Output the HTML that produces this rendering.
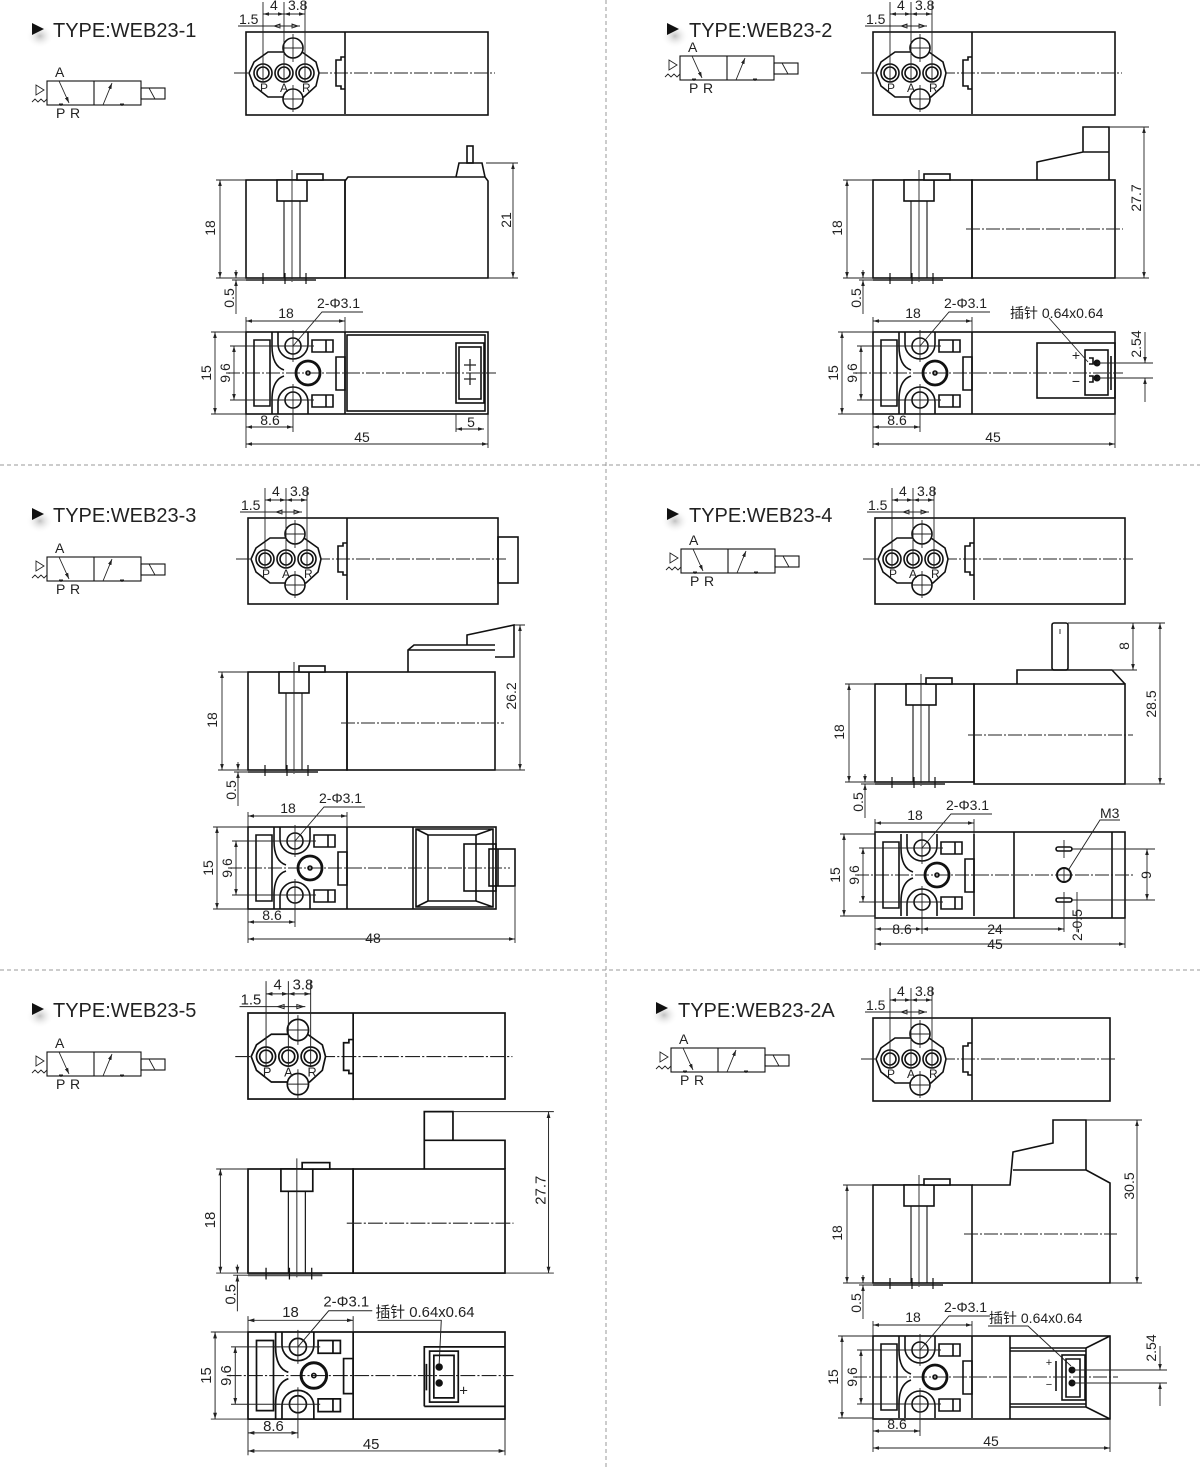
<!DOCTYPE html>
<html><head><meta charset="utf-8">
<style>
html,body{margin:0;padding:0;background:#fff;}
svg{display:block;}
text{font-family:"Liberation Sans","Noto Sans CJK SC",sans-serif;fill:#222;}
.t{font-size:14px;}
.h{font-size:20px;}
.s{fill:none;stroke:#111;stroke-width:1.6;}
.th{fill:none;stroke:#222;stroke-width:0.9;}
.c{fill:none;stroke:#222;stroke-width:1;stroke-dasharray:14 2 2 2;}
.k{fill:none;stroke:#111;stroke-width:2.8;}
</style></head><body>
<svg width="1200" height="1467" viewBox="0 0 1200 1467" xmlns="http://www.w3.org/2000/svg">
<defs>
<marker id="a" viewBox="0 0 10 10" refX="10" refY="5" markerWidth="6" markerHeight="6" orient="auto-start-reverse" markerUnits="userSpaceOnUse"><path d="M0,2 L10,5 L0,8z" fill="#222"/></marker>
<radialGradient id="sh"><stop offset="0" stop-color="#999" stop-opacity="0.6"/><stop offset="1" stop-color="#fff" stop-opacity="0"/></radialGradient>

<g id="SYM">
 <rect class="s" x="0" y="0" width="94" height="24" style="stroke-width:1.1"/>
 <line class="s" x1="47" y1="0" x2="47" y2="24" style="stroke-width:1.1"/>
 <rect class="s" x="94" y="7" width="24" height="11" style="stroke-width:1.1"/>
 <line class="th" x1="102" y1="7" x2="108" y2="18"/>
 <line class="th" x1="12" y1="0" x2="22" y2="22" marker-end="url(#a)"/>
 <line class="th" x1="56" y1="24" x2="65" y2="2" marker-end="url(#a)"/>
 <path class="th" d="M12,23 h4 M14,23 v2 M73,23 h4 M75,23 v2"/>
 <path class="th" d="M-11,4 L-3,9 L-11,14 Z"/>
 <path class="th" d="M-15,21 l3,-3 l3,3 l3,-3 l3,3 l3,-3"/>
</g>

<g id="TL">
 <line class="s" x1="99" y1="0" x2="99" y2="82"/>
 <path class="s" d="M99,25 H95 V28 H90 V54 H95 V57 H99"/>
 <polygon class="s" points="22,20 56,20 70,30 73,41 70,54 58,65 22,65 8,54 3,41 8,30" style="fill:#fff"/>
 <circle class="s" cx="47" cy="16" r="10" style="fill:#fff"/>
 <circle class="s" cx="47" cy="67" r="10" style="fill:#fff"/>
 <circle class="s" cx="17" cy="41" r="9"/><circle class="s" cx="17" cy="41" r="6"/>
 <circle class="s" cx="38" cy="41" r="9"/><circle class="s" cx="38" cy="41" r="6"/>
 <circle class="s" cx="59" cy="41" r="9"/><circle class="s" cx="59" cy="41" r="6"/>
 <path class="th" d="M47,2 V30 M37,16 H57 M47,53 V80 M37,67 H57"/>
 <path class="th" d="M17,41 V-30 M38,41 V-30 M59,41 V-30 M17,32 v18 M38,32 v18 M59,32 v18"/>
 <line class="th" x1="17" y1="-18" x2="38" y2="-18" marker-start="url(#a)" marker-end="url(#a)"/>
 <line class="th" x1="38" y1="-18" x2="59" y2="-18" marker-start="url(#a)" marker-end="url(#a)"/>
 <line class="th" x1="-8" y1="-6" x2="54" y2="-6"/>
 <path class="th" d="M28,-6 l6,-2 v4z M52,-6 l-6,-2 v4z"/>
</g>

<g id="SL">
 <rect class="s" x="0" y="0" width="99" height="98"/>
 <rect class="s" x="31" y="0" width="30" height="21" style="fill:#fff"/>
 <rect class="s" x="51" y="-6" width="26" height="6" style="fill:#fff"/>
 <path class="s" d="M38,21 V98 M54,21 V98" style="stroke-width:1.1"/>
 <line class="th" x1="46" y1="-10" x2="46" y2="102"/>
 <path class="s" d="M0,100 H70" style="stroke-width:2;stroke:#555"/>
 <path class="s" d="M17,93 V104 M39,93 V104 M60,93 V104" style="stroke-width:1.2"/>
 <line class="th" x1="-26" y1="0" x2="-26" y2="98" marker-start="url(#a)" marker-end="url(#a)"/>
 <path class="th" d="M-30,0 H0 M-30,98 H0 M-14,100 H0"/>
 <line class="th" x1="-10" y1="90" x2="-10" y2="98" marker-end="url(#a)"/>
 <line class="th" x1="-10" y1="134" x2="-10" y2="100" marker-end="url(#a)"/>
</g>

<g id="BL">
 <line class="s" x1="99" y1="0" x2="99" y2="82"/>
 <path class="s" d="M8,8 H24 V74 H8 Z"/>
 <path class="s" d="M26,0 V14 Q26,34 38,38 M26,82 V68 Q26,48 38,44"/>
 <path class="s" d="M32,0 V12 A15,15 0 0 0 62,12 V0 M32,82 V70 A15,15 0 0 1 62,70 V82"/>
 <circle class="s" cx="47" cy="14" r="8"/>
 <circle class="s" cx="47" cy="68" r="8"/>
 <circle class="k" cx="62" cy="41" r="12"/>
 <circle class="s" cx="62" cy="41" r="2"/>
 <path class="s" d="M66,8 H87 V20 H66 Z M80,8 V20 M66,63 H87 V75 H66 Z M80,63 V75"/>
 <path class="s" d="M90,25 H99 V58 H90 Z"/>
 <path class="th" d="M47,-2 V30 M25,14 H68 M47,52 V100 M25,68 H68"/>
 <line class="th" x1="0" y1="-11" x2="99" y2="-11" marker-start="url(#a)" marker-end="url(#a)"/>
 <path class="th" d="M0,-15 V0 M99,-15 V0"/>
 <path class="th" d="M47,14 L76,-20 H117"/>
 <line class="th" x1="-31" y1="0" x2="-31" y2="82" marker-start="url(#a)" marker-end="url(#a)"/>
 <path class="th" d="M-35,0 H0 M-35,82 H0"/>
 <line class="th" x1="-12" y1="14" x2="-12" y2="68" marker-start="url(#a)" marker-end="url(#a)"/>
 <path class="th" d="M-16,14 H30 M-16,68 H30"/>
 <line class="th" x1="0" y1="95" x2="47" y2="95" marker-start="url(#a)" marker-end="url(#a)"/>
 <path class="th" d="M0,82 V116"/>
</g>
</defs>

<line x1="606" y1="0" x2="606" y2="1467" stroke="#999" stroke-width="1" stroke-dasharray="4 3"/>
<line x1="0" y1="465" x2="1200" y2="465" stroke="#999" stroke-width="1" stroke-dasharray="4 3"/>
<line x1="0" y1="970" x2="1200" y2="970" stroke="#999" stroke-width="1" stroke-dasharray="4 3"/>

<g>
<ellipse cx="40" cy="36" rx="14" ry="12" fill="url(#sh)"/><path d="M32,23 L44,29 L32,35Z" fill="#111"/><text class="h" x="53" y="37">TYPE:WEB23-1</text>
<ellipse cx="675" cy="36" rx="14" ry="12" fill="url(#sh)"/><path d="M667,23 L679,29 L667,35Z" fill="#111"/><text class="h" x="689" y="37">TYPE:WEB23-2</text>
<ellipse cx="40" cy="521" rx="14" ry="12" fill="url(#sh)"/><path d="M32,508 L44,514 L32,520Z" fill="#111"/><text class="h" x="53" y="522">TYPE:WEB23-3</text>
<ellipse cx="675" cy="521" rx="14" ry="12" fill="url(#sh)"/><path d="M667,508 L679,514 L667,520Z" fill="#111"/><text class="h" x="689" y="522">TYPE:WEB23-4</text>
<ellipse cx="40" cy="1016" rx="14" ry="12" fill="url(#sh)"/><path d="M32,1003 L44,1009 L32,1015Z" fill="#111"/><text class="h" x="53" y="1017">TYPE:WEB23-5</text>
<ellipse cx="664" cy="1015" rx="14" ry="12" fill="url(#sh)"/><path d="M656,1002 L668,1008 L656,1014Z" fill="#111"/><text class="h" x="678" y="1017">TYPE:WEB23-2A</text>
</g>

<g transform="translate(47,81)"><use href="#SYM"/><text class="t" x="8" y="-4">A</text><text class="t" x="9" y="37">P</text><text class="t" x="23" y="37">R</text></g>
<g transform="translate(680,56)"><use href="#SYM"/><text class="t" x="8" y="-4">A</text><text class="t" x="9" y="37">P</text><text class="t" x="23" y="37">R</text></g>
<g transform="translate(47,557)"><use href="#SYM"/><text class="t" x="8" y="-4">A</text><text class="t" x="9" y="37">P</text><text class="t" x="23" y="37">R</text></g>
<g transform="translate(681,549)"><use href="#SYM"/><text class="t" x="8" y="-4">A</text><text class="t" x="9" y="37">P</text><text class="t" x="23" y="37">R</text></g>
<g transform="translate(47,1052)"><use href="#SYM"/><text class="t" x="8" y="-4">A</text><text class="t" x="9" y="37">P</text><text class="t" x="23" y="37">R</text></g>
<g transform="translate(671,1048)"><use href="#SYM"/><text class="t" x="8" y="-4">A</text><text class="t" x="9" y="37">P</text><text class="t" x="23" y="37">R</text></g>

<!-- P1 -->
<g transform="translate(246,32)">
 <rect class="s" x="0" y="0" width="242" height="83"/>
 <line class="c" x1="-12" y1="41" x2="249" y2="41"/>
 <use href="#TL"/>
 <text class="t" x="-7" y="-8">1.5</text><text class="t" x="24" y="-22">4</text><text class="t" x="42" y="-22">3.8</text>
 <text class="t" x="14" y="60" style="font-size:12px">P</text><text class="t" x="34" y="60" style="font-size:12px">A</text><text class="t" x="56" y="60" style="font-size:12px">R</text>
</g>
<g transform="translate(246,180)">
 <use href="#SL"/>
 <path class="s" d="M99,98 V1 L102,-3 H239 L242,1 V98 H99"/>
 <path class="s" d="M210,-3 L213,-17 H236 L239,-3"/>
 <rect class="s" x="221" y="-34" width="6" height="17"/>
 <line class="th" x1="267" y1="-17" x2="267" y2="98" marker-start="url(#a)" marker-end="url(#a)"/>
 <path class="th" d="M240,-17 H272 M242,98 H272"/>
 <text class="t" transform="translate(-31,48) rotate(-90)" text-anchor="middle">18</text>
 <text class="t" transform="translate(-12,118) rotate(-90)" text-anchor="middle">0.5</text>
 <text class="t" transform="translate(265,40) rotate(-90)" text-anchor="middle">21</text>
</g>
<g transform="translate(246,332)">
 <rect class="s" x="0" y="0" width="242" height="82"/>
 <rect class="s" x="101" y="3" width="138" height="76"/>
 <rect class="s" x="210" y="11" width="28" height="60"/>
 <rect class="s" x="213" y="15" width="22" height="52"/>
 <line class="c" x1="-20" y1="41" x2="250" y2="41"/>
 <use href="#BL"/>
 <path class="th" d="M224,27 v12 M218,33 h12 M224,41 v12 M218,47 h12" style="stroke-width:1.3"/>
 <line class="th" x1="0" y1="112" x2="242" y2="112" marker-start="url(#a)" marker-end="url(#a)"/>
 <path class="th" d="M242,82 V116 M210,82 V100"/>
 <line class="th" x1="210" y1="97" x2="238" y2="97" marker-start="url(#a)" marker-end="url(#a)"/>
 <text class="t" x="40" y="-14" text-anchor="middle">18</text>
 <text class="t" x="71" y="-24">2-Φ3.1</text>
 <text class="t" transform="translate(-35,41) rotate(-90)" text-anchor="middle">15</text>
 <text class="t" transform="translate(-16,41) rotate(-90)" text-anchor="middle">9.6</text>
 <text class="t" x="24" y="93" text-anchor="middle">8.6</text>
 <text class="t" x="116" y="110" text-anchor="middle">45</text>
 <text class="t" x="225" y="95" text-anchor="middle">5</text>
</g>

<!-- P2 -->
<g transform="translate(873,32)">
 <rect class="s" x="0" y="0" width="242" height="83"/>
 <line class="c" x1="-12" y1="41" x2="249" y2="41"/>
 <use href="#TL"/>
 <text class="t" x="-7" y="-8">1.5</text><text class="t" x="24" y="-22">4</text><text class="t" x="42" y="-22">3.8</text>
 <text class="t" x="14" y="60" style="font-size:12px">P</text><text class="t" x="34" y="60" style="font-size:12px">A</text><text class="t" x="56" y="60" style="font-size:12px">R</text>
</g>
<g transform="translate(873,180)">
 <use href="#SL"/>
 <rect class="s" x="99" y="0" width="143" height="98"/>
 <path class="s" d="M164,0 V-18 L210,-28 H236 M210,-28 V-53 H236 V0"/>
 <line class="c" x1="93" y1="49" x2="250" y2="49"/>
 <line class="th" x1="271" y1="-53" x2="271" y2="98" marker-start="url(#a)" marker-end="url(#a)"/>
 <path class="th" d="M236,-53 H276 M242,98 H276"/>
 <text class="t" transform="translate(-31,48) rotate(-90)" text-anchor="middle">18</text>
 <text class="t" transform="translate(-12,118) rotate(-90)" text-anchor="middle">0.5</text>
 <text class="t" transform="translate(268,18) rotate(-90)" text-anchor="middle">27.7</text>
</g>
<g transform="translate(873,332)">
 <rect class="s" x="0" y="0" width="242" height="82"/>
 <rect class="s" x="164" y="11" width="78" height="55"/>
 <rect class="s" x="212" y="18" width="23" height="45"/>
 <path class="s" d="M216,26 h4 v6 h-4 M216,44 h4 v6 h-4 M238,24 V58"/>
 <circle cx="224" cy="31" r="3.5" fill="#111"/><circle cx="224" cy="46" r="3.5" fill="#111"/>
 <line class="c" x1="-20" y1="41" x2="250" y2="41"/>
 <use href="#BL"/>
 <path class="th" d="M224,31 H280 M224,46 H280 M176,-14 L215,30"/>
 <line class="th" x1="272" y1="0" x2="272" y2="31" marker-end="url(#a)"/>
 <line class="th" x1="272" y1="70" x2="272" y2="46" marker-end="url(#a)"/>
 <text class="t" x="203" y="28" text-anchor="middle">+</text>
 <text class="t" x="203" y="54" text-anchor="middle">−</text>
 <line class="th" x1="0" y1="112" x2="242" y2="112" marker-start="url(#a)" marker-end="url(#a)"/>
 <path class="th" d="M242,82 V116"/>
 <text class="t" x="40" y="-14" text-anchor="middle">18</text>
 <text class="t" x="71" y="-24">2-Φ3.1</text>
 <text class="t" x="137" y="-14">插针 0.64x0.64</text>
 <text class="t" transform="translate(268,12) rotate(-90)" text-anchor="middle">2.54</text>
 <text class="t" transform="translate(-35,41) rotate(-90)" text-anchor="middle">15</text>
 <text class="t" transform="translate(-16,41) rotate(-90)" text-anchor="middle">9.6</text>
 <text class="t" x="24" y="93" text-anchor="middle">8.6</text>
 <text class="t" x="120" y="110" text-anchor="middle">45</text>
</g>

<!-- P3 -->
<g transform="translate(248,518)">
 <rect class="s" x="0" y="0" width="250" height="86"/>
 <rect class="s" x="250" y="19" width="20" height="46"/>
 <line class="c" x1="-12" y1="41" x2="258" y2="41"/>
 <use href="#TL"/>
 <text class="t" x="-7" y="-8">1.5</text><text class="t" x="24" y="-22">4</text><text class="t" x="42" y="-22">3.8</text>
 <text class="t" x="14" y="60" style="font-size:12px">P</text><text class="t" x="34" y="60" style="font-size:12px">A</text><text class="t" x="56" y="60" style="font-size:12px">R</text>
</g>
<g transform="translate(248,672)">
 <use href="#SL"/>
 <rect class="s" x="99" y="0" width="148" height="98"/>
 <path class="s" d="M160,0 V-22 L166,-27 H247 M160,-22 H247"/>
 <path class="s" d="M219,-27 V-37 L266,-47 V-15 H247"/>
 <line class="c" x1="93" y1="51" x2="256" y2="51"/>
 <line class="th" x1="272" y1="-47" x2="272" y2="98" marker-start="url(#a)" marker-end="url(#a)"/>
 <path class="th" d="M266,-47 H277 M247,98 H277"/>
 <text class="t" transform="translate(-31,48) rotate(-90)" text-anchor="middle">18</text>
 <text class="t" transform="translate(-12,118) rotate(-90)" text-anchor="middle">0.5</text>
 <text class="t" transform="translate(268,24) rotate(-90)" text-anchor="middle">26.2</text>
</g>
<g transform="translate(248,827)">
 <rect class="s" x="0" y="0" width="248" height="82"/>
 <path class="s" d="M165,0 V82 M168,2 H245 V80 H168 Z M180,8 H228 V74 H180 Z M168,2 L180,8 M245,2 L228,8 M168,80 L180,74 M245,80 L228,74"/>
 <rect class="s" x="216" y="17" width="32" height="47"/>
 <rect class="s" x="241" y="22" width="26" height="37"/>
 <line class="s" x1="250" y1="22" x2="250" y2="59"/>
 <line class="c" x1="-20" y1="41" x2="262" y2="41"/>
 <use href="#BL"/>
 <line class="th" x1="0" y1="112" x2="267" y2="112" marker-start="url(#a)" marker-end="url(#a)"/>
 <path class="th" d="M267,60 V116"/>
 <text class="t" x="40" y="-14" text-anchor="middle">18</text>
 <text class="t" x="71" y="-24">2-Φ3.1</text>
 <text class="t" transform="translate(-35,41) rotate(-90)" text-anchor="middle">15</text>
 <text class="t" transform="translate(-16,41) rotate(-90)" text-anchor="middle">9.6</text>
 <text class="t" x="24" y="93" text-anchor="middle">8.6</text>
 <text class="t" x="125" y="116" text-anchor="middle">48</text>
</g>

<!-- P4 -->
<g transform="translate(875,518)">
 <rect class="s" x="0" y="0" width="250" height="86"/>
 <line class="c" x1="-12" y1="41" x2="258" y2="41"/>
 <use href="#TL"/>
 <text class="t" x="-7" y="-8">1.5</text><text class="t" x="24" y="-22">4</text><text class="t" x="42" y="-22">3.8</text>
 <text class="t" x="14" y="60" style="font-size:12px">P</text><text class="t" x="34" y="60" style="font-size:12px">A</text><text class="t" x="56" y="60" style="font-size:12px">R</text>
</g>
<g transform="translate(875,684)">
 <use href="#SL"/>
 <rect class="s" x="99" y="0" width="151" height="100"/>
 <path class="s" d="M142,0 V-14 H237 L250,0"/>
 <rect class="s" x="177" y="-61" width="16" height="47" rx="2"/>
 <line class="th" x1="185" y1="-55" x2="185" y2="-50"/>
 <line class="c" x1="93" y1="51" x2="258" y2="51"/>
 <line class="th" x1="258" y1="-61" x2="258" y2="-14" marker-start="url(#a)" marker-end="url(#a)"/>
 <line class="th" x1="285" y1="-61" x2="285" y2="100" marker-start="url(#a)" marker-end="url(#a)"/>
 <path class="th" d="M193,-61 H290 M237,-14 H262 M250,100 H290"/>
 <text class="t" transform="translate(-31,48) rotate(-90)" text-anchor="middle">18</text>
 <text class="t" transform="translate(-12,118) rotate(-90)" text-anchor="middle">0.5</text>
 <text class="t" transform="translate(254,-38) rotate(-90)" text-anchor="middle">8</text>
 <text class="t" transform="translate(281,20) rotate(-90)" text-anchor="middle">28.5</text>
</g>
<g transform="translate(875,832)">
 <rect class="s" x="0" y="0" width="250" height="86"/>
 <path class="s" d="M139,0 V86 M237,0 V86"/>
 <circle class="k" cx="189" cy="43" r="7" style="stroke-width:2"/>
 <rect class="s" x="181" y="15" width="16" height="4" rx="2"/>
 <rect class="s" x="181" y="66" width="16" height="4" rx="2"/>
 <path class="th" d="M189,8 V26 M189,36 V50 M189,60 V100 M181,43 H197 M197,17 H280 M197,68 H280 M202,60 V100"/>
 <path class="th" d="M194,37 L225,-12 H245"/>
 <line class="c" x1="-20" y1="43" x2="258" y2="43"/>
 <g transform="translate(0,2)"><use href="#BL"/></g>
 <line class="th" x1="272" y1="17" x2="272" y2="68" marker-start="url(#a)" marker-end="url(#a)"/>
 <line class="th" x1="47" y1="97" x2="189" y2="97" marker-start="url(#a)" marker-end="url(#a)"/>
 <line class="th" x1="0" y1="112" x2="250" y2="112" marker-start="url(#a)" marker-end="url(#a)"/>
 <path class="th" d="M250,86 V116"/>
 <text class="t" x="40" y="-12" text-anchor="middle">18</text>
 <text class="t" x="71" y="-22">2-Φ3.1</text>
 <text class="t" x="225" y="-14">M3</text>
 <text class="t" transform="translate(276,43) rotate(-90)" text-anchor="middle">9</text>
 <text class="t" transform="translate(207,93) rotate(-90)" text-anchor="middle">2-0.5</text>
 <text class="t" transform="translate(-35,43) rotate(-90)" text-anchor="middle">15</text>
 <text class="t" transform="translate(-16,43) rotate(-90)" text-anchor="middle">9.6</text>
 <text class="t" x="27" y="102" text-anchor="middle">8.6</text>
 <text class="t" x="120" y="102" text-anchor="middle">24</text>
 <text class="t" x="120" y="117" text-anchor="middle">45</text>
</g>

<!-- P5 -->
<g transform="translate(248,1013) scale(1.062)">
 <rect class="s" x="0" y="0" width="242" height="81"/>
 <line class="c" x1="-12" y1="41" x2="249" y2="41"/>
 <use href="#TL"/>
 <text class="t" x="-7" y="-8">1.5</text><text class="t" x="24" y="-22">4</text><text class="t" x="42" y="-22">3.8</text>
 <text class="t" x="14" y="60" style="font-size:12px">P</text><text class="t" x="34" y="60" style="font-size:12px">A</text><text class="t" x="56" y="60" style="font-size:12px">R</text>
</g>
<g transform="translate(248,1169) scale(1.062)">
 <use href="#SL"/>
 <rect class="s" x="99" y="0" width="143" height="98"/>
 <path class="s" d="M166,0 V-27 H242 V0 M166,-27 V-54 H193 V-27"/>
 <line class="c" x1="93" y1="51" x2="250" y2="51"/>
 <line class="th" x1="283" y1="-54" x2="283" y2="98" marker-start="url(#a)" marker-end="url(#a)"/>
 <path class="th" d="M193,-54 H288 M242,98 H288"/>
 <text class="t" transform="translate(-31,48) rotate(-90)" text-anchor="middle">18</text>
 <text class="t" transform="translate(-12,118) rotate(-90)" text-anchor="middle">0.5</text>
 <text class="t" transform="translate(280,20) rotate(-90)" text-anchor="middle">27.7</text>
</g>
<g transform="translate(248,1332) scale(1.062)">
 <rect class="s" x="0" y="0" width="242" height="82"/>
 <path class="s" d="M166,70 V14 H242 M166,70 H242"/>
 <rect class="s" x="171" y="18" width="27" height="48"/>
 <path class="s" d="M175,22 h19 v40 h-19 z M168,30 V55"/>
 <circle cx="180" cy="33" r="3.5" fill="#111"/><circle cx="180" cy="48" r="3.5" fill="#111"/>
 <line class="c" x1="-20" y1="41" x2="250" y2="41"/>
 <use href="#BL"/>
 <path class="th" d="M122,-11 H182 L180,30"/>
 <text class="t" x="203" y="60" text-anchor="middle">+</text>
 <line class="th" x1="0" y1="112" x2="242" y2="112" marker-start="url(#a)" marker-end="url(#a)"/>
 <path class="th" d="M242,82 V116"/>
 <text class="t" x="40" y="-14" text-anchor="middle">18</text>
 <text class="t" x="71" y="-24">2-Φ3.1</text>
 <text class="t" x="120" y="-14">插针 0.64x0.64</text>
 <text class="t" transform="translate(-35,41) rotate(-90)" text-anchor="middle">15</text>
 <text class="t" transform="translate(-16,41) rotate(-90)" text-anchor="middle">9.6</text>
 <text class="t" x="24" y="93" text-anchor="middle">8.6</text>
 <text class="t" x="116" y="110" text-anchor="middle">45</text>
</g>

<!-- P2A -->
<g transform="translate(873,1018)">
 <rect class="s" x="0" y="0" width="237" height="83"/>
 <line class="c" x1="-12" y1="41" x2="244" y2="41"/>
 <use href="#TL"/>
 <text class="t" x="-7" y="-8">1.5</text><text class="t" x="24" y="-22">4</text><text class="t" x="42" y="-22">3.8</text>
 <text class="t" x="14" y="60" style="font-size:12px">P</text><text class="t" x="34" y="60" style="font-size:12px">A</text><text class="t" x="56" y="60" style="font-size:12px">R</text>
</g>
<g transform="translate(873,1185)">
 <use href="#SL"/>
 <path class="s" d="M99,98 H237 V-2 L213,-15 V-65 H180 V-42 L140,-33 L137,0 H99 M140,-15 H213"/>
 <line class="c" x1="91" y1="49" x2="244" y2="49"/>
 <line class="th" x1="264" y1="-65" x2="264" y2="98" marker-start="url(#a)" marker-end="url(#a)"/>
 <path class="th" d="M213,-65 H269 M237,98 H269"/>
 <text class="t" transform="translate(-31,48) rotate(-90)" text-anchor="middle">18</text>
 <text class="t" transform="translate(-12,118) rotate(-90)" text-anchor="middle">0.5</text>
 <text class="t" transform="translate(261,1) rotate(-90)" text-anchor="middle">30.5</text>
</g>
<g transform="translate(873,1336)">
 <rect class="s" x="0" y="0" width="237" height="83"/>
 <path class="s" d="M137,0 V83 M137,12 H213 V71 H137 M137,15 H213 M137,68 H213 M213,12 L237,0 M213,71 L237,83"/>
 <rect class="s" x="189" y="19" width="23" height="45"/>
 <path class="s" d="M183,25 V55 M193,23 h14 v38 h-14 z"/>
 <circle cx="199" cy="34" r="3.5" fill="#111"/><circle cx="199" cy="47" r="3.5" fill="#111"/>
 <line class="c" x1="-20" y1="41" x2="245" y2="41"/>
 <use href="#BL"/>
 <path class="th" d="M115,-10 H155 L198,30 M199,34 H294 M199,47 H294"/>
 <line class="th" x1="287" y1="10" x2="287" y2="34" marker-end="url(#a)"/>
 <line class="th" x1="287" y1="70" x2="287" y2="47" marker-end="url(#a)"/>
 <text class="t" x="176" y="30" text-anchor="middle" style="font-size:11px">+</text>
 <text class="t" x="176" y="52" text-anchor="middle" style="font-size:11px">−</text>
 <line class="th" x1="0" y1="112" x2="237" y2="112" marker-start="url(#a)" marker-end="url(#a)"/>
 <path class="th" d="M237,83 V116"/>
 <text class="t" x="40" y="-14" text-anchor="middle">18</text>
 <text class="t" x="71" y="-24">2-Φ3.1</text>
 <text class="t" x="116" y="-13">插针 0.64x0.64</text>
 <text class="t" transform="translate(283,12) rotate(-90)" text-anchor="middle">2.54</text>
 <text class="t" transform="translate(-35,41) rotate(-90)" text-anchor="middle">15</text>
 <text class="t" transform="translate(-16,41) rotate(-90)" text-anchor="middle">9.6</text>
 <text class="t" x="24" y="93" text-anchor="middle">8.6</text>
 <text class="t" x="118" y="110" text-anchor="middle">45</text>
</g>
</svg>
</body></html>
